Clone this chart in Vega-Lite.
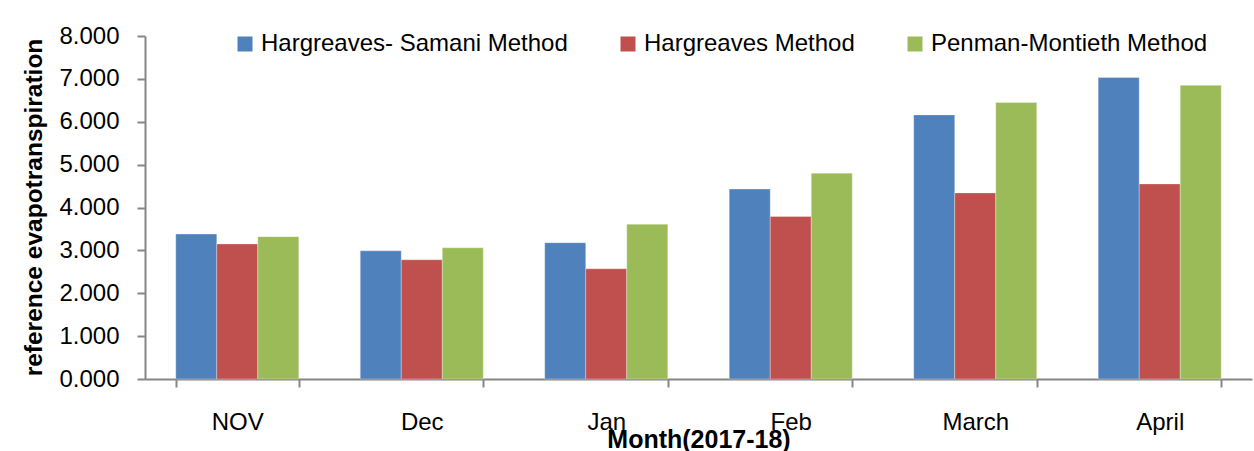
{
  "$schema": "https://vega.github.io/schema/vega-lite/v6.json",
  "width": 1107,
  "height": 343,
  "autosize": {"type": "none"},
  "padding": {"left": 145, "top": 36, "right": 2, "bottom": 72},
  "background": "white",
  "data": {
    "values": [
      {"month": "NOV", "method": "Hargreaves- Samani Method", "value": 3.38},
      {"month": "NOV", "method": "Hargreaves Method", "value": 3.15},
      {"month": "NOV", "method": "Penman-Montieth Method", "value": 3.32},
      {"month": "Dec", "method": "Hargreaves- Samani Method", "value": 2.99},
      {"month": "Dec", "method": "Hargreaves Method", "value": 2.78},
      {"month": "Dec", "method": "Penman-Montieth Method", "value": 3.06},
      {"month": "Jan", "method": "Hargreaves- Samani Method", "value": 3.18},
      {"month": "Jan", "method": "Hargreaves Method", "value": 2.57},
      {"month": "Jan", "method": "Penman-Montieth Method", "value": 3.61},
      {"month": "Feb", "method": "Hargreaves- Samani Method", "value": 4.43},
      {"month": "Feb", "method": "Hargreaves Method", "value": 3.79},
      {"month": "Feb", "method": "Penman-Montieth Method", "value": 4.8},
      {"month": "March", "method": "Hargreaves- Samani Method", "value": 6.16},
      {"month": "March", "method": "Hargreaves Method", "value": 4.34},
      {"month": "March", "method": "Penman-Montieth Method", "value": 6.45},
      {"month": "April", "method": "Hargreaves- Samani Method", "value": 7.03},
      {"month": "April", "method": "Hargreaves Method", "value": 4.55},
      {"month": "April", "method": "Penman-Montieth Method", "value": 6.85}
    ]
  },
  "mark": {"type": "bar", "stroke": "#ffffff", "strokeOpacity": 0.5, "strokeWidth": 0.6},
  "encoding": {
    "x": {
      "field": "month",
      "type": "nominal",
      "sort": ["NOV", "Dec", "Jan", "Feb", "March", "April"],
      "scale": {"paddingInner": 0.333, "paddingOuter": 0.1667},
      "axis": {
        "title": "Month(2017-18)",
        "labelAngle": 0,
        "labelFontSize": 24,
        "labelFont": "Liberation Sans",
        "labelColor": "#000000",
        "labelPadding": 23,
        "tickBand": "extent",
        "tickSize": 8,
        "tickColor": "#868686",
        "tickWidth": 2,
        "domainColor": "#868686",
        "domainWidth": 2,
        "titleFont": "Liberation Sans",
        "titleFontSize": 25,
        "titleFontWeight": "bold",
        "titleColor": "#000000",
        "titleBaseline": "top",
        "titleY": 48
      }
    },
    "xOffset": {
      "field": "method",
      "type": "nominal",
      "sort": ["Hargreaves- Samani Method", "Hargreaves Method", "Penman-Montieth Method"],
      "scale": {"paddingInner": 0, "paddingOuter": 0}
    },
    "y": {
      "field": "value",
      "type": "quantitative",
      "scale": {"domain": [0, 8], "nice": false},
      "axis": {
        "title": "reference evapotranspiration",
        "values": [0, 1, 2, 3, 4, 5, 6, 7, 8],
        "format": ".3f",
        "grid": false,
        "labelFontSize": 24,
        "labelFont": "Liberation Sans",
        "labelColor": "#000000",
        "labelPadding": 18,
        "tickSize": 8,
        "tickColor": "#868686",
        "tickWidth": 2,
        "domainColor": "#868686",
        "domainWidth": 2,
        "titleFont": "Liberation Sans",
        "titleFontSize": 24.5,
        "titleFontWeight": "bold",
        "titleColor": "#000000",
        "titleAngle": 270,
        "titleBaseline": "middle",
        "titleAlign": "center",
        "titleX": -111,
        "titleY": 171
      }
    },
    "color": {
      "field": "method",
      "type": "nominal",
      "sort": ["Hargreaves- Samani Method", "Hargreaves Method", "Penman-Montieth Method"],
      "scale": {
        "domain": ["Hargreaves- Samani Method", "Hargreaves Method", "Penman-Montieth Method"],
        "range": ["#4F81BD", "#C0504D", "#9BBB59"]
      },
      "legend": {
        "title": null,
        "orient": "none",
        "direction": "horizontal",
        "legendX": 88,
        "legendY": -4,
        "padding": 0,
        "symbolType": "square",
        "symbolSize": 225,
        "symbolStrokeWidth": 0,
        "symbolOpacity": 1,
        "labelFont": "Liberation Sans",
        "labelFontSize": 24,
        "labelColor": "#000000",
        "labelOffset": 4,
        "columnPadding": 48,
        "labelLimit": 400
      }
    }
  },
  "config": {
    "view": {"stroke": null}
  }
}
